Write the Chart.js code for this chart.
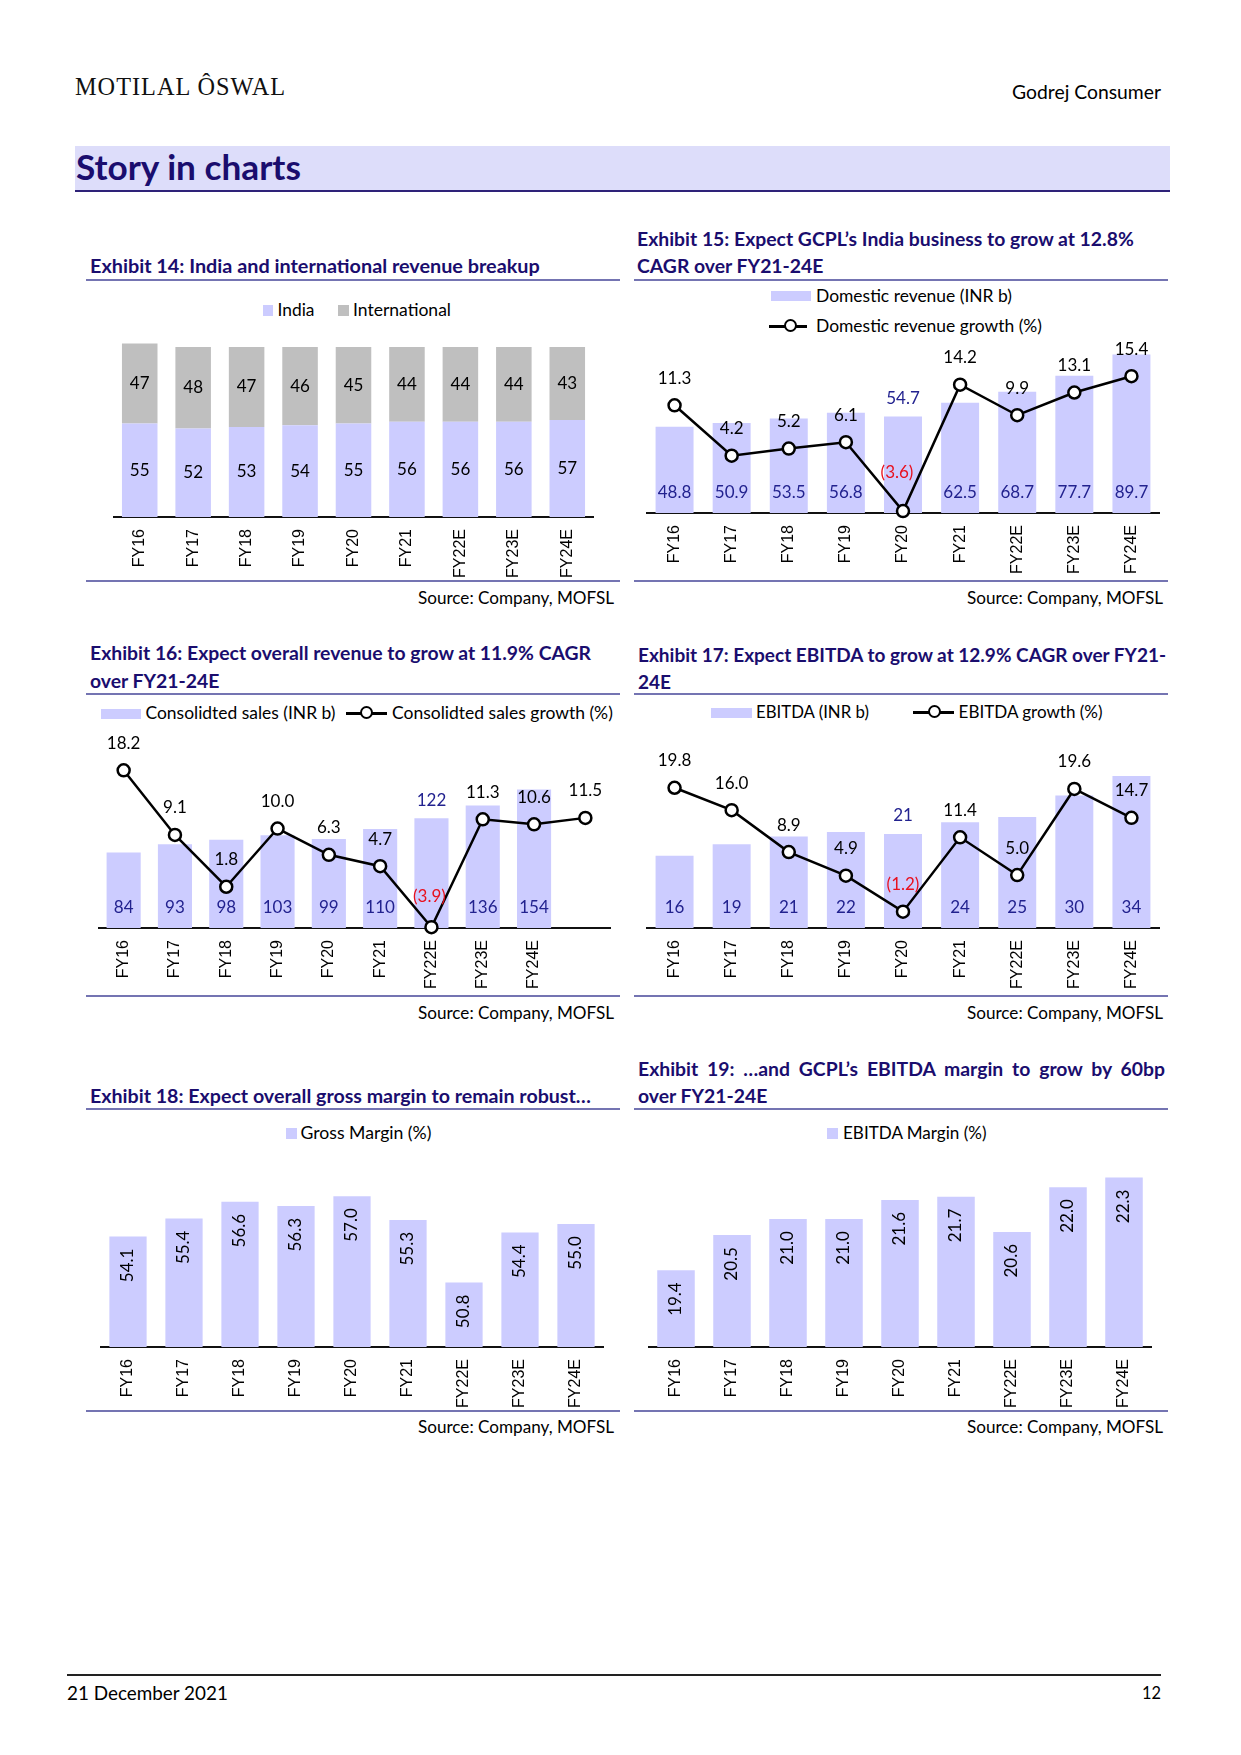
<!DOCTYPE html>
<html>
<head>
<meta charset="utf-8">
<script src="https://cdn.jsdelivr.net/npm/chart.js@4.4.1/dist/chart.umd.min.js"></script>
<style>
  html,body{margin:0;padding:0;background:#fff;}
  body{position:relative;width:1241px;height:1755px;overflow:hidden;}
  .t{position:absolute;white-space:nowrap;line-height:1;transform:translateY(-50%);font-family:Lato,"Open Sans",sans-serif;font-size:17px;color:#000;}
  .ti{font-weight:700;color:#1A0D6E;font-size:18px;}
  .logo{font-family:"Liberation Serif",serif;font-variant:small-caps;font-size:27px;color:#111;letter-spacing:1px;}
  .hl{position:absolute;height:2px;}
  .box{position:absolute;}
  canvas{position:absolute;}
</style>
</head>
<body>
<script>
// ---------------- DATA ----------------
const years = ['FY16','FY17','FY18','FY19','FY20','FY21','FY22E','FY23E','FY24E'];
const years16 = ['FY16','FY17','FY18','FY19','FY20','FY21','FY22E','FY23E','FY24E',''];

const ex14India = [55,52,53,54,55,56,56,56,57];
const ex14Intl  = [47,48,47,46,45,44,44,44,43];

const ex15DomRev    = [48.8,50.9,53.5,56.8,54.7,62.5,68.7,77.7,89.7];
const ex15DomGrowth = [11.3,4.2,5.2,6.1,-3.6,14.2,9.9,13.1,15.4];

const ex16Sales  = [84,93,98,103,99,110,122,136,154,null];
const ex16Growth = [18.2,9.1,1.8,10.0,6.3,4.7,-3.9,11.3,10.6,11.5];

const ex17Ebitda = [16.2,18.8,20.5,21.5,21.1,23.7,24.9,29.7,34.1];
const ex17Growth = [19.8,16.0,8.9,4.9,-1.2,11.4,5.0,19.6,14.7];

const ex18GrossMargin  = [54.1,55.4,56.6,56.3,57.0,55.3,50.8,54.4,55.0];
const ex19EbitdaMargin = [19.4,20.5,21.0,21.0,21.6,21.7,20.6,22.0,22.3];

// ---------------- COLOURS ----------------
const BAR = '#CCCCFF', GREY = '#BFBFBF', NAVY = '#1A0D6E', LBLBLUE = '#22228F', RED = '#E8101E';
const RULE = '#7474B2';

// ---------------- PAGE TEXT HELPERS ----------------
function el(tag, cls, css){ const d=document.createElement(tag); if(cls) d.className=cls; if(css) d.style.cssText=css; document.body.appendChild(d); return d; }
function txt(s, x, y, o){
  o = o||{};
  const d = el('div', 't ' + (o.cls||''));
  d.textContent = s;
  d.style.top = y+'px';
  if (o.right!=null) d.style.right = (1241-o.right)+'px'; else d.style.left = x+'px';
  if (o.w) d.dataset.w = o.w;
  if (o.color) d.style.color = o.color;
  if (o.id) d.id = o.id;
  if (o.like) d.dataset.like = o.like;
  return d;
}
function hline(x1, x2, y, color, h){ el('div','hl',`left:${x1}px;top:${y-(h||2)/2}px;width:${x2-x1}px;height:${h||2}px;background:${color}`); }
function rect(x, y, w, h, color){ el('div','box',`left:${x}px;top:${y}px;width:${w}px;height:${h}px;background:${color}`); }
function lineMarker(x1, x2, cx, y){
  el('div','box',`left:${x1}px;top:${y-1.5}px;width:${x2-x1}px;height:3px;background:#000`);
  el('div','box',`left:${cx-7}px;top:${y-7}px;width:9px;height:9px;border:2.5px solid #000;border-radius:50%;background:#fff`);
}

// Header
txt('MOTILAL ÔSWAL', 75, 87, {cls:'logo', w:210});
txt('Godrej Consumer', 0, 92, {right:1161, w:149});
el('div','box',`left:75px;top:146px;width:1095px;height:44px;background:#DDDDFA;border-bottom:2px solid #2E2278`);
txt('Story in charts', 76, 167, {cls:'ti', w:225, color:NAVY});

// Exhibit titles
txt('Exhibit 14: India and international revenue breakup', 90, 266, {cls:'ti', w:450});
txt('Exhibit 15: Expect GCPL\u2019s India business to grow at 12.8%', 637, 239, {cls:'ti', w:497, id:'t15'});
txt('CAGR over FY21-24E', 637, 266, {cls:'ti', like:'t15'});
txt('Exhibit 16: Expect overall revenue to grow at 11.9% CAGR', 90, 653, {cls:'ti', w:501, id:'t16'});
txt('over FY21-24E', 90, 681, {cls:'ti', like:'t16'});
txt('Exhibit 17: Expect EBITDA to grow at 12.9% CAGR over FY21-', 638, 654, {cls:'ti', w:528, id:'t17'});
txt('24E', 638, 681, {cls:'ti', like:'t17'});
txt('Exhibit 18: Expect overall gross margin to remain robust\u2026', 90, 1096, {cls:'ti', w:501});
const j19 = txt('Exhibit 19: \u2026and GCPL\u2019s EBITDA margin to grow by 60bp', 638, 1069, {cls:'ti', like:'t16'});
j19.style.whiteSpace='normal'; j19.style.width='527px'; j19.style.textAlign='justify'; j19.style.textAlignLast='justify';
txt('over FY21-24E', 638, 1096, {cls:'ti', like:'t16'});

// Rules
[[280,581],[694,996],[1109,1411]].forEach(([a,b])=>{
  hline(86,620,a,RULE); hline(634,1168,a,RULE);
  hline(86,620,b,RULE); hline(634,1168,b,RULE);
});
[598,1013,1427].forEach(y=>{
  txt('Source: Company, MOFSL', 0, y, {right:614, w:196});
  txt('Source: Company, MOFSL', 0, y, {right:1163, w:196});
});

// Legends
rect(262.5,305,10.5,10.5,BAR); txt('India', 277.5, 310, {w:37});
rect(338,305,10.5,10.5,GREY); txt('International', 353, 310, {w:98});

rect(771,291,40,10,BAR); txt('Domestic revenue (INR b)', 816, 296, {w:196});
lineMarker(769,807,790.5,326); txt('Domestic revenue growth (%)', 816, 326, {w:226});

rect(101,709,40,10,BAR); txt('Consolidted sales (INR b)', 145.5, 713, {w:190});
lineMarker(345.5,387,366.7,713); txt('Consolidted sales growth (%)', 392, 713, {w:221});

rect(711,707.5,40.5,10,BAR); txt('EBITDA (INR b)', 756, 712, {w:113});
lineMarker(913,954,934.7,712); txt('EBITDA growth (%)', 958.6, 712, {w:144});

rect(286,1128,10.5,10.5,BAR); txt('Gross Margin (%)', 300.5, 1133, {w:131});
rect(827,1128,10.5,10.5,BAR); txt('EBITDA Margin (%)', 843, 1133, {w:143.5});

// Footer
hline(67,1161,1675,'#222');
txt('21 December 2021', 67, 1693, {w:161});
txt('12', 0, 1693, {right:1161, w:19});

// fit widths
document.querySelectorAll('[data-w]').forEach(d=>{
  const fs = parseFloat(getComputedStyle(d).fontSize);
  const w = d.getBoundingClientRect().width;
  d.style.fontSize = (fs*(+d.dataset.w)/w).toFixed(2)+'px';
});
document.querySelectorAll('[data-like]').forEach(d=>{
  d.style.fontSize = document.getElementById(d.dataset.like).style.fontSize;
});

// ---------------- CHARTS ----------------
const XH = 75;
const valueLabels = {
  id:'valueLabels',
  afterDatasetsDraw(chart){
    const ctx = chart.ctx;
    const lineIdx = chart.data.datasets.findIndex(d=>d.type==='line');
    chart.data.datasets.forEach((ds, di)=>{
      if(!ds.lbl) return;
      const meta = chart.getDatasetMeta(di);
      meta.data.forEach((e, i)=>{
        const v = ds.data[i];
        if (v==null) return;
        let s = Math.abs(v).toFixed(ds.dec||0);
        if (v<0) s = '('+s+')';
        ctx.save();
        ctx.font = '17px Lato';
        ctx.textAlign = 'center';
        ctx.textBaseline = 'middle';
        ctx.fillStyle = v<0 ? RED : (ds.lblColor||'#000');
        if (ds.lbl==='mid') ctx.fillText(s, e.x, (e.y+e.base)/2);
        else if (ds.lbl==='base'){
          let y = e.base - 20;
          if (lineIdx>=0){ const p = chart.getDatasetMeta(lineIdx).data[i]; if (p && p.y > e.base-36) y = e.y - 18; }
          ctx.fillText(s, e.x, y);
        } else if (ds.lbl==='above'){
          if (v<0) ctx.fillText(s, e.x+(ds.negDx||0), e.y-(ds.negDy||27)); else ctx.fillText(s, e.x, e.y-27);
        }
        else if (ds.lbl==='rot'){ ctx.translate(e.x, e.y+12); ctx.rotate(-Math.PI/2); ctx.textAlign='right'; ctx.fillText(s,0,0); }
        ctx.restore();
      });
    });
  }
};
Chart.register(valueLabels);

function range(ppu, vAtAxis, areaH){ return {min:vAtAxis, max:vAtAxis + areaH/ppu}; }
function xScale(stacked){
  return { type:'category', offset:true, stacked:!!stacked,
    grid:{display:false, drawTicks:false},
    border:{display:true, color:'#111', width:2},
    ticks:{autoSkip:false, maxRotation:90, minRotation:90, padding:12, color:'#000', font:{family:'Liberation Sans', size:16}},
    afterFit(s){ s.height = XH; s.paddingLeft = 0; s.paddingRight = 0; } };
}
function mk(left, top, right, axisY, data, yScales, stacked){
  const c = document.createElement('canvas');
  const W = Math.round(right-left), H = Math.round(axisY-top)+XH;
  c.width=W; c.height=H;
  c.style.cssText = `left:${left}px;top:${top}px;width:${W}px;height:${H}px`;
  document.body.appendChild(c);
  const scales = {x:xScale(stacked)};
  Object.keys(yScales).forEach(k=>{ scales[k] = Object.assign({display:false, stacked:!!stacked}, yScales[k]); });
  return new Chart(c, { data, options:{ responsive:false, animation:false, maintainAspectRatio:false,
    layout:{padding:0, autoPadding:false}, plugins:{legend:{display:false}, tooltip:{enabled:false}}, scales } });
}
const barDs = (label, data, extra) => Object.assign({type:'bar', label, data, backgroundColor:BAR, categoryPercentage:1, barPercentage:0.665, order:1, yAxisID:'y'}, extra||{});
const lineDs = (label, data, extra) => Object.assign({type:'line', label, data, yAxisID:'y2', borderColor:'#000', borderWidth:2.5, pointRadius:6, pointHoverRadius:6,
  pointBackgroundColor:'#fff', pointBorderColor:'#000', pointBorderWidth:2.5, tension:0, clip:false, order:0, lbl:'above', dec:1, lblColor:'#000'}, extra||{});

// Exhibit 14
mk(113, 330, 594, 517, {labels:years, datasets:[
  barDs('India', ex14India, {lbl:'mid', lblColor:'#000'}),
  barDs('International', ex14Intl, {backgroundColor:GREY, lbl:'mid', lblColor:'#000'})
]}, {y: range(1.7, 0, 187)}, true);

// Exhibit 15
mk(646, 330, 1160, 513, {labels:years, datasets:[
  barDs('Domestic revenue (INR b)', ex15DomRev, {lbl:'base', dec:1, lblColor:LBLBLUE}),
  lineDs('Domestic revenue growth (%)', ex15DomGrowth, {negDy:39, negDx:-6})
]}, {y: range(1.766, 0, 183), y2: range(7.1, -3.87, 183)});

// Exhibit 16
mk(98, 730, 611, 928, {labels:years16, datasets:[
  barDs('Consolidted sales (INR b)', ex16Sales, {lbl:'base', dec:0, lblColor:LBLBLUE}),
  lineDs('Consolidted sales growth (%)', ex16Growth, {negDy:31, negDx:-2})
]}, {y: range(0.9, 0, 198), y2: range(7.1, -4.01, 198)});

// Exhibit 17
mk(646, 740, 1160, 928, {labels:years, datasets:[
  barDs('EBITDA (INR b)', ex17Ebitda, {lbl:'base', dec:0, lblColor:LBLBLUE}),
  lineDs('EBITDA growth (%)', ex17Growth, {negDy:27, negDx:0})
]}, {y: range(4.46, 0, 188), y2: range(5.9, -3.97, 188)});

// Exhibit 18
mk(100, 1170, 604, 1347, {labels:years, datasets:[
  barDs('Gross Margin (%)', ex18GrossMargin, {lbl:'rot', dec:1, lblColor:'#000'})
]}, {y: range(13.92, 46.17, 177)});

// Exhibit 19
mk(648, 1160, 1152, 1347, {labels:years, datasets:[
  barDs('EBITDA Margin (%)', ex19EbitdaMargin, {lbl:'rot', dec:1, lblColor:'#000', barPercentage:0.67})
]}, {y: range(31.97, 17.0, 187)});
</script>
</body>
</html>
